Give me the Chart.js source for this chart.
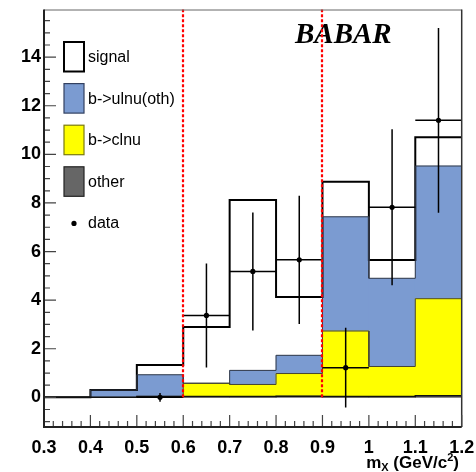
<!DOCTYPE html>
<html>
<head>
<meta charset="utf-8">
<script src="https://cdn.jsdelivr.net/npm/chart.js@4.4.1/dist/chart.umd.min.js"></script>
<style>
  html, body { margin: 0; padding: 0; background: #fff; }
  #wrap { width: 476px; height: 472px; }
</style>
</head>
<body>
<div id="wrap"><canvas id="mx-chart" width="476" height="472"></canvas></div>
<script>
// ── m_X spectrum, 0.1 GeV/c^2 bins ──
const binCenters = [0.35, 0.45, 0.55, 0.65, 0.75, 0.85, 0.95, 1.05, 1.15];
const otherMC    = [0, 0, 0.04, 0.03, 0.03, 0.05, 0.03, 0.04, 0.07];
const clnuMC     = [0, 0, 0, 0.55, 0.50, 0.93, 2.70, 1.23, 3.99];
const ulnuMC     = [0, 0.30, 0.89, 0, 0.58, 0.75, 4.70, 3.63, 5.46];
const signalMC   = [0, 0, 0.40, 2.32, 7.01, 2.40, 1.44, 0.75, 1.18];

const dataX   = [0.55, 0.65, 0.75, 0.85, 0.95, 1.05, 1.15];
const dataY   = [0, 3.37, 5.18, 5.66, 1.22, 7.82, 11.40];
const dataErr = [0.18, 2.14, 2.43, 2.64, 1.64, 3.21, 3.80];

const cutValues   = [0.6, 0.9];
const xTicks      = [0.3, 0.4, 0.5, 0.6, 0.7, 0.8, 0.9, 1.0, 1.1, 1.2];
const xTickLabels = ['0.3', '0.4', '0.5', '0.6', '0.7', '0.8', '0.9', '1', '1.1', '1.2'];
const yTicks      = [0, 2, 4, 6, 8, 10, 12, 14];

const BIN_W = 0.1;

const colors = {
  signal: '#ffffff',
  ulnu:   '#7b9bd1',
  clnu:   '#ffff00',
  other:  '#666666',
  cut:    '#ff0000',
};

// running sums give the top edge of each layer in the stack
function cumulate(...layers) {
  return binCenters.map((_, i) => layers.reduce((s, l) => s + l[i], 0));
}
const topOther  = cumulate(otherMC);
const topClnu   = cumulate(otherMC, clnuMC);
const topUlnu   = cumulate(otherMC, clnuMC, ulnuMC);
const topSignal = cumulate(otherMC, clnuMC, ulnuMC, signalMC);

// histogram step outline: both edges of every bin
function outline(tops) {
  const pts = [];
  binCenters.forEach((c, i) => {
    pts.push({ x: c - BIN_W / 2, y: tops[i] });
    pts.push({ x: c + BIN_W / 2, y: tops[i] });
  });
  return pts;
}

const barSet = (label, values, color, order) => ({
  type: 'bar', label, order, stack: 'mc',
  data: binCenters.map((x, i) => ({ x, y: values[i] })),
  backgroundColor: color, borderWidth: 0,
  categoryPercentage: 1, barPercentage: 1,
});
const lineSet = (tops, color, width, order, key) => ({
  type: 'line', order, stack: key,
  data: outline(tops),
  borderColor: color, borderWidth: width, borderJoinStyle: 'miter',
  pointRadius: 0, fill: false, tension: 0,
});

const datasets = [
  { type: 'line', label: 'data', order: 0, stack: 'obs',
    data: dataX.map((x, i) => ({ x, y: dataY[i] })),
    showLine: false, pointRadius: 2.6, pointBorderWidth: 0,
    pointBackgroundColor: '#000', borderColor: '#000' },
  lineSet(topOther,  '#111111', 1.5, 1, 'o1'),
  lineSet(topClnu,   '#444433', 1,   2, 'o2'),
  lineSet(topUlnu,   '#333a48', 1,   3, 'o3'),
  lineSet(topSignal, '#000000', 2,   4, 'o4'),
  barSet('other',        otherMC,  colors.other,  5),
  barSet('b->clnu',      clnuMC,   colors.clnu,   6),
  barSet('b->ulnu(oth)', ulnuMC,   colors.ulnu,   7),
  barSet('signal',       signalMC, colors.signal, 8),
];

// legend entries, top to bottom
const legendEntries = [
  { label: 'signal',       fill: colors.signal, stroke: '#000000', lw: 2 },
  { label: 'b->ulnu(oth)', fill: colors.ulnu,   stroke: '#334060', lw: 1.2 },
  { label: 'b->clnu',      fill: colors.clnu,   stroke: '#7a7a10', lw: 1.2 },
  { label: 'other',        fill: colors.other,  stroke: '#222222', lw: 1.2 },
  { label: 'data',         dot: true },
];

const decorations = {
  id: 'decorations',
  beforeDatasetsDraw(chart) {
    const ctx = chart.ctx;
    ctx.save();
    ctx.fillStyle = '#000';
    ctx.font = 'italic bold 29px "Liberation Serif"';
    ctx.textBaseline = 'alphabetic';
    ctx.textAlign = 'left';
    ctx.fillText('BABAR', 295, 43);
    ctx.restore();
  },
  afterDatasetsDraw(chart) {
    const { ctx, chartArea: a, scales: { x, y } } = chart;
    ctx.save();

    // error bars on the data points
    ctx.strokeStyle = '#000';
    ctx.lineWidth = 1.5;
    dataX.forEach((v, i) => {
      const px = x.getPixelForValue(v);
      const py = y.getPixelForValue(dataY[i]);
      ctx.beginPath();
      ctx.moveTo(px, y.getPixelForValue(dataY[i] - dataErr[i]));
      ctx.lineTo(px, y.getPixelForValue(dataY[i] + dataErr[i]));
      ctx.moveTo(x.getPixelForValue(v - BIN_W / 2), py);
      ctx.lineTo(x.getPixelForValue(v + BIN_W / 2), py);
      ctx.stroke();
    });

    // signal-region cuts
    ctx.strokeStyle = colors.cut;
    ctx.lineWidth = 2.2;
    ctx.setLineDash([3, 2]);
    cutValues.forEach(v => {
      const px = Math.round(x.getPixelForValue(v));
      ctx.beginPath();
      ctx.moveTo(px, y.getPixelForValue(0));
      ctx.lineTo(px, a.top);
      ctx.stroke();
    });
    ctx.setLineDash([]);

    // frame
    ctx.strokeStyle = '#666';
    ctx.lineWidth = 1;
    ctx.beginPath();
    ctx.moveTo(a.left, a.top + 0.5);
    ctx.lineTo(a.right, a.top + 0.5);
    ctx.stroke();
    ctx.strokeStyle = '#333';
    ctx.lineWidth = 1.5;
    ctx.beginPath();
    ctx.moveTo(a.right, a.top);
    ctx.lineTo(a.right, a.bottom);
    ctx.stroke();

    // inward ticks
    ctx.strokeStyle = '#444';
    ctx.lineWidth = 1.2;
    ctx.beginPath();
    for (let k = -2; k <= 31; k++) {
      const v = k * 0.5;
      const py = y.getPixelForValue(v);
      if (py < a.top || py > a.bottom) continue;
      const len = (k % 4 === 0) ? 12 : 6;
      ctx.moveTo(a.left, py);
      ctx.lineTo(a.left + len, py);
    }
    for (let k = 0; k <= 45; k++) {
      const px = x.getPixelForValue(0.3 + k * 0.02);
      const len = (k % 5 === 0) ? 12 : 6;
      ctx.moveTo(px, a.bottom);
      ctx.lineTo(px, a.bottom - len);
    }
    ctx.stroke();

    // axis lines
    ctx.strokeStyle = '#222';
    ctx.lineWidth = 2;
    ctx.beginPath();
    ctx.moveTo(a.left, a.top);
    ctx.lineTo(a.left, a.bottom);
    ctx.lineTo(a.right, a.bottom);
    ctx.stroke();

    // legend
    ctx.font = '16px "Liberation Sans"';
    ctx.textBaseline = 'middle';
    ctx.textAlign = 'left';
    legendEntries.forEach((e, i) => {
      const top = 42 + i * 41.6;
      const cy = top + 15;
      if (e.dot) {
        ctx.fillStyle = '#000';
        ctx.beginPath();
        ctx.arc(74, cy, 2.6, 0, Math.PI * 2);
        ctx.fill();
      } else {
        ctx.fillStyle = e.fill;
        ctx.fillRect(64, top, 20, 29.5);
        ctx.strokeStyle = e.stroke;
        ctx.lineWidth = e.lw;
        ctx.strokeRect(64, top, 20, 29.5);
      }
      ctx.fillStyle = '#000';
      ctx.fillText(e.label, 88, cy + 0.5);
    });

    // axis title m_X (GeV/c^2), right aligned
    const big = 'bold 17px "Liberation Sans"';
    const small = 'bold 11px "Liberation Sans"';
    const parts = [
      { t: 'm', f: big, dy: 0 },
      { t: 'X', f: small, dy: 3 },
      { t: ' (GeV/c', f: big, dy: 0 },
      { t: '2', f: small, dy: -7 },
      { t: ')', f: big, dy: 0 },
    ];
    ctx.textBaseline = 'alphabetic';
    let total = 0;
    parts.forEach(p => { ctx.font = p.f; p.w = ctx.measureText(p.t).width; total += p.w; });
    let cx = 459 - total;
    parts.forEach(p => {
      ctx.font = p.f;
      ctx.fillText(p.t, cx, 468 + p.dy);
      cx += p.w;
    });

    ctx.restore();
  }
};

Chart.defaults.font.family = '"Liberation Sans", Arial, sans-serif';
Chart.defaults.color = '#000';

new Chart(document.getElementById('mx-chart'), {
  type: 'bar',
  data: { datasets },
  options: {
    responsive: false,
    devicePixelRatio: 1,
    animation: false,
    events: [],
    layout: { padding: { top: 9.5, right: 14.3, left: 0, bottom: 0 } },
    plugins: { legend: { display: false }, tooltip: { enabled: false } },
    scales: {
      x: {
        type: 'linear', min: 0.3, max: 1.2, offset: false, stacked: true, bounds: 'data',
        grid: { display: false, drawTicks: false },
        border: { display: false },
        afterBuildTicks: s => { s.ticks = xTicks.map(v => ({ value: v })); },
        afterFit: s => { s.height = 45; s.paddingLeft = 0; s.paddingRight = 0; },
        ticks: {
          autoSkip: false, maxRotation: 0, padding: 10,
          font: { size: 18, weight: 'bold' },
          callback: (v, i) => xTickLabels[i],
        },
      },
      y: {
        type: 'linear', min: -1.22, max: 15.96, stacked: true, bounds: 'data',
        grid: { display: false, drawTicks: false },
        border: { display: false },
        afterBuildTicks: s => { s.ticks = yTicks.map(v => ({ value: v })); },
        afterFit: s => { s.width = 44; s.paddingTop = 0; s.paddingBottom = 0; },
        ticks: {
          padding: 3,
          font: { size: 18, weight: 'bold' },
          callback: v => String(v),
        },
      },
    },
  },
  plugins: [decorations],
});
</script>
</body>
</html>
